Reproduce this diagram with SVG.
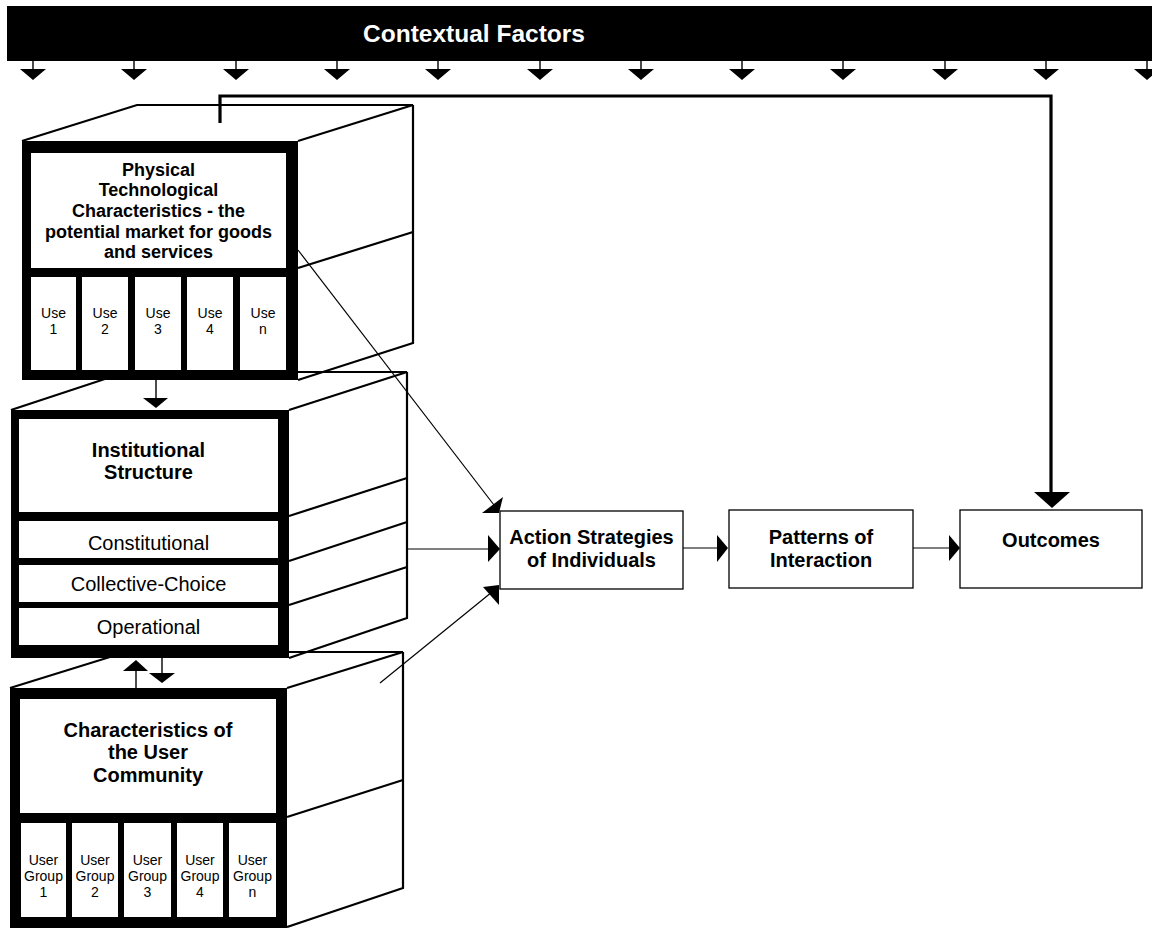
<svg xmlns="http://www.w3.org/2000/svg" width="1152" height="928" viewBox="0 0 1152 928">
<style>
.bg{fill:#fff}
.front{fill:#000}
.cell{fill:#fff}
.face{fill:none;stroke:#000;stroke-width:2.2;stroke-linejoin:miter}
.thin{fill:none;stroke:#000;stroke-width:1.4}
.ln{fill:none;stroke:#000;stroke-width:1.2}
.fb{fill:none;stroke:#000;stroke-width:3.2}
.ah{fill:#000;stroke:none}
.box{fill:#fff;stroke:#000;stroke-width:1.3}
text{font-family:"Liberation Sans",Arial,sans-serif;fill:#000;text-anchor:middle}
.b18{font-size:18px;font-weight:bold}
.b20{font-size:20px;font-weight:bold}
.n20{font-size:20px}
.n14{font-size:14px}
.title{font-size:24.5px;font-weight:bold;fill:#fff}
</style>
<rect class="bg" x="0" y="0" width="1152" height="928"/>

<g id="contextual-factors">
<rect x="7" y="6" width="1145" height="55" fill="#000"/>
<text class="title" x="474" y="42">Contextual Factors</text>
<g id="context-arrows">
<path class="thin" d="M33 61V70M134 61V70M236 61V70M337 61V70M438 61V70M540 61V70M641 61V70M742 61V70M843 61V70M945 61V70M1046 61V70M1147 61V70"/>
<path class="ah" d="M20 69h26l-13 11zM121 69h26l-13 11zM223 69h26l-13 11zM324 69h26l-13 11zM425 69h26l-13 11zM527 69h26l-13 11zM628 69h26l-13 11zM729 69h26l-13 11zM830 69h26l-13 11zM932 69h26l-13 11zM1033 69h26l-13 11zM1134 69h26l-13 11z"/>
</g>
</g>

<g id="user-community">
<path class="face" d="M10 688L126 652H403L287 688M403 652V888L287 927M287 817L403 780"/>
<rect class="front" x="10" y="688" width="277" height="240"/>
<rect class="cell" x="20" y="699" width="256" height="114"/>
<rect class="cell" x="21" y="823" width="45" height="94"/>
<rect class="cell" x="72" y="823" width="46" height="94"/>
<rect class="cell" x="124" y="823" width="47" height="94"/>
<rect class="cell" x="177" y="823" width="46" height="94"/>
<rect class="cell" x="229" y="823" width="47" height="94"/>
<text class="b20" x="148" y="737">Characteristics of</text>
<text class="b20" x="148" y="759">the User</text>
<text class="b20" x="148" y="782">Community</text>
<g class="n14">
<text x="43.5" y="865">User</text><text x="43.5" y="881">Group</text><text x="43.5" y="897">1</text>
<text x="95" y="865">User</text><text x="95" y="881">Group</text><text x="95" y="897">2</text>
<text x="147.5" y="865">User</text><text x="147.5" y="881">Group</text><text x="147.5" y="897">3</text>
<text x="200" y="865">User</text><text x="200" y="881">Group</text><text x="200" y="897">4</text>
<text x="252.5" y="865">User</text><text x="252.5" y="881">Group</text><text x="252.5" y="897">n</text>
</g>
</g>

<g id="institutional-structure">
<path class="face" d="M11 410L126 372H407L289 410M407 372V618L289 658M289 516L407 478M289 561L407 522M289 605L407 567"/>
<rect class="front" x="11" y="410" width="278" height="248"/>
<rect class="cell" x="19" y="419" width="259" height="93"/>
<rect class="cell" x="19" y="521" width="259" height="37"/>
<rect class="cell" x="19" y="565" width="259" height="37"/>
<rect class="cell" x="19" y="608" width="259" height="37"/>
<text class="b20" x="148.5" y="457">Institutional</text>
<text class="b20" x="148.5" y="479">Structure</text>
<text class="n20" x="148.5" y="550">Constitutional</text>
<text class="n20" x="148.5" y="591">Collective-Choice</text>
<text class="n20" x="148.5" y="634">Operational</text>
</g>

<g id="physical-technological">
<path class="face" d="M22 141L137 105H413L298 141M413 105V343L298 380M298 268L413 232"/>
<rect class="front" x="22" y="141" width="276" height="239"/>
<rect class="cell" x="31" y="153" width="255" height="115"/>
<rect class="cell" x="31" y="277" width="45" height="93"/>
<rect class="cell" x="82" y="277" width="46" height="93"/>
<rect class="cell" x="135" y="277" width="46" height="93"/>
<rect class="cell" x="187" y="277" width="46" height="93"/>
<rect class="cell" x="240" y="277" width="46" height="93"/>
<text class="b18" x="158.5" y="176">Physical</text>
<text class="b18" x="158.5" y="196">Technological</text>
<text class="b18" x="158.5" y="217">Characteristics - the</text>
<text class="b18" x="158.5" y="238">potential market for goods</text>
<text class="b18" x="158.5" y="258">and services</text>
<g class="n14">
<text x="53.5" y="318">Use</text><text x="53.5" y="334">1</text>
<text x="105" y="318">Use</text><text x="105" y="334">2</text>
<text x="158" y="318">Use</text><text x="158" y="334">3</text>
<text x="210" y="318">Use</text><text x="210" y="334">4</text>
<text x="263" y="318">Use</text><text x="263" y="334">n</text>
</g>
</g>

<g id="action-strategies">
<rect class="box" x="500" y="511" width="183" height="78"/>
<text class="b20" x="591.5" y="544">Action Strategies</text>
<text class="b20" x="591.5" y="567">of Individuals</text>
</g>

<g id="patterns-of-interaction">
<rect class="box" x="729" y="510" width="184" height="78"/>
<text class="b20" x="821" y="544">Patterns of</text>
<text class="b20" x="821" y="567">Interaction</text>
</g>

<g id="outcomes">
<rect class="box" x="960" y="510" width="182" height="78"/>
<text class="b20" x="1051" y="547">Outcomes</text>
</g>

<g id="connectors">
<path class="fb" d="M220 123V96H1051V493"/>
<path class="ah" d="M1034 492H1070L1052 508z"/>
<path class="thin" d="M156 380V398"/>
<path class="ah" d="M143 398H168L156 408z"/>
<path class="thin" d="M136 671V688"/>
<path class="ah" d="M123 671H148L136 660z"/>
<path class="thin" d="M162 658V673"/>
<path class="ah" d="M149 673H175L162 683z"/>
<path class="ln" d="M298 250L494 505"/>
<path class="ah" d="M482 513L503 497L499 513z"/>
<path class="ln" d="M407 549H489"/>
<path class="ah" d="M488 535L500 549L488 562z"/>
<path class="ln" d="M380 683L492 592"/>
<path class="ah" d="M483 587L499 585L499 605z"/>
<path class="ln" d="M683 548H718"/>
<path class="ah" d="M717 535L728 548L717 562z"/>
<path class="ln" d="M913 548H950"/>
<path class="ah" d="M949 535L960 548L949 561z"/>
</g>
</svg>
